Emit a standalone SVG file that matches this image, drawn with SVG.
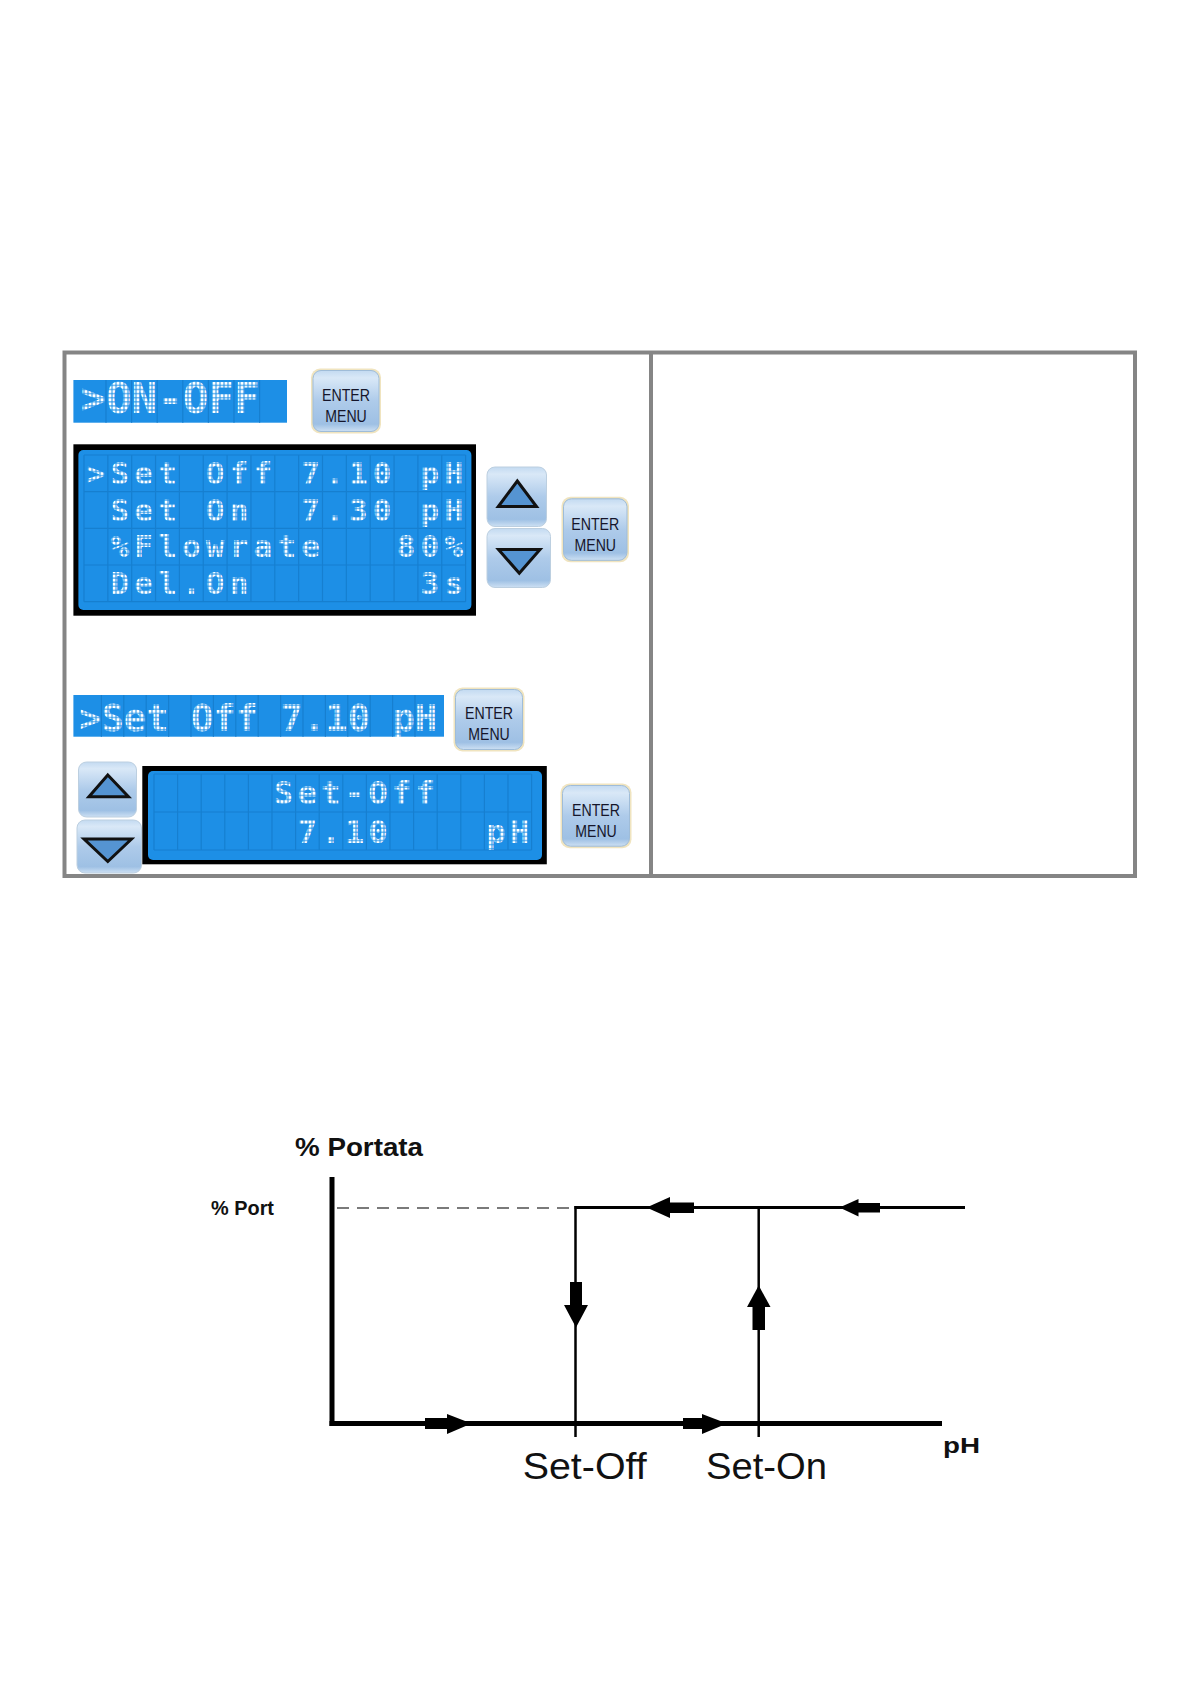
<svg xmlns="http://www.w3.org/2000/svg" width="1191" height="1684" viewBox="0 0 1191 1684">
<style>
.frame{fill:none;stroke:#858585;stroke-width:4}
.lcdbg{fill:#1d8fe6}
.lcdframe{fill:#000}
.grid{fill:none;stroke:#167fd0;stroke-width:1.2}
.dm{font-family:"DejaVu Sans Mono","Liberation Mono",monospace;font-weight:bold;fill:url(#dots)}
.glow{fill:#f0e4bf}
.btn{fill:url(#btnGrad);stroke:#9fbcd8;stroke-width:1}
.btn2{fill:url(#btnGrad);stroke:#bccfe0;stroke-width:1}
.btxt{font-family:"Liberation Sans",Arial,sans-serif;font-size:16.5px;fill:#15152a;text-anchor:middle}
.tri{fill:#5594d2;stroke:#111;stroke-width:3;stroke-linejoin:miter}
.ax{stroke:#000;stroke-width:5;fill:none}
.ln{stroke:#000;stroke-width:3;fill:none}
.lnt{stroke:#000;stroke-width:2.5;fill:none}
.dash{stroke:#7a7a7a;stroke-width:2;stroke-dasharray:12 8;fill:none}
.ah{fill:#000}
.lbl{font-family:"Liberation Sans",Arial,sans-serif;fill:#111}
</style>
<defs>
<pattern id="dots" patternUnits="userSpaceOnUse" width="4" height="4.1">
<rect x="0.5" y="0.5" width="3" height="3.1" fill="#ffffff"/>
</pattern>
<linearGradient id="btnGrad" x1="0" y1="0" x2="0" y2="1">
<stop offset="0" stop-color="#c3daf1"/>
<stop offset="0.12" stop-color="#d9e8f7"/>
<stop offset="0.5" stop-color="#aecbea"/>
<stop offset="0.88" stop-color="#9ec0e4"/>
<stop offset="1" stop-color="#cde0f3"/>
</linearGradient>
</defs>
<rect width="1191" height="1684" fill="#ffffff"/>

<g id="table">
<rect class="frame" x="64.5" y="352.5" width="1070.5" height="523.5"/>
<line class="frame" x1="651" y1="352.5" x2="651" y2="876"/>
</g>

<g id="lcd-onoff">
<rect class="lcdbg" x="73.4" y="380" width="213.6" height="42.7"/>
<path class="grid" d="M106 380V422.7M131.6 380V422.7M157.2 380V422.7M182.8 380V422.7M208.4 380V422.7M234 380V422.7M259.6 380V422.7"/>
<text class="dm" x="80.4" y="413" font-size="42.5" xml:space="preserve">&gt;ON-OFF</text>
</g>

<g id="btn-enter-1">
<rect class="glow" x="311" y="368.5" width="70" height="65" rx="9"/>
<rect class="btn" x="313" y="370.5" width="66" height="61" rx="8"/>
<text class="btxt" x="346" y="400.7" textLength="48" lengthAdjust="spacingAndGlyphs">ENTER</text>
<text class="btxt" x="346" y="421.7" textLength="41.5" lengthAdjust="spacingAndGlyphs">MENU</text>
</g>

<g id="lcd-menu">
<rect class="lcdframe" x="73.4" y="444.3" width="402.6" height="171.4"/>
<rect class="lcdbg" x="78.4" y="450" width="393" height="160" rx="5"/>
<path class="grid" d="M84 455H465.6M84 491.7H465.6M84 528.3H465.6M84 565H465.6M84 601.7H465.6M84 455V601.7M107.85 455V601.7M131.7 455V601.7M155.55 455V601.7M179.4 455V601.7M203.25 455V601.7M227.1 455V601.7M250.95 455V601.7M274.8 455V601.7M298.65 455V601.7M322.5 455V601.7M346.35 455V601.7M370.2 455V601.7M394.05 455V601.7M417.9 455V601.7M441.75 455V601.7M465.6 455V601.7"/>
<text class="dm" x="86.6" y="484" font-size="31" letter-spacing="5.19" xml:space="preserve">&gt;Set Off 7.10 pH</text>
<text class="dm" x="86.6" y="520.7" font-size="31" letter-spacing="5.19" xml:space="preserve"> Set On  7.30 pH</text>
<text class="dm" x="86.6" y="557.3" font-size="31" letter-spacing="5.19" xml:space="preserve"> %Flowrate   80%</text>
<text class="dm" x="86.6" y="594" font-size="31" letter-spacing="5.19" xml:space="preserve"> Del.On       3s</text>
</g>

<g id="btn-up-1">
<rect class="btn2" x="487" y="467" width="59.5" height="59.5" rx="8"/>
<polygon class="tri" points="517.3,481 536.5,506.5 498.3,506.5"/>
</g>
<g id="btn-down-1">
<rect class="btn2" x="487" y="528.5" width="63.5" height="59" rx="8"/>
<polygon class="tri" points="498.5,549.5 540,549.5 519.3,573.3"/>
</g>

<g id="btn-enter-2">
<rect class="glow" x="561.5" y="496.8" width="67.5" height="65.5" rx="9"/>
<rect class="btn" x="563.5" y="498.8" width="63.5" height="61.5" rx="8"/>
<text class="btxt" x="595.3" y="529.5" textLength="48" lengthAdjust="spacingAndGlyphs">ENTER</text>
<text class="btxt" x="595.3" y="550.5" textLength="41.5" lengthAdjust="spacingAndGlyphs">MENU</text>
</g>

<g id="lcd-setoff-bar">
<rect class="lcdbg" x="73.4" y="695" width="370.6" height="41.7"/>
<path class="grid" d="M101.4 695V736.7M123.8 695V736.7M146.2 695V736.7M168.6 695V736.7M191 695V736.7M213.4 695V736.7M235.8 695V736.7M258.2 695V736.7M280.6 695V736.7M303 695V736.7M325.4 695V736.7M347.8 695V736.7M370.2 695V736.7M392.6 695V736.7M415 695V736.7"/>
<text class="dm" x="79" y="730.5" font-size="37.2" xml:space="preserve">&gt;Set Off 7.10 pH</text>
</g>

<g id="btn-enter-3">
<rect class="glow" x="453.5" y="687.5" width="71" height="64" rx="9"/>
<rect class="btn" x="455.5" y="689.5" width="67" height="60" rx="8"/>
<text class="btxt" x="489" y="719.2" textLength="48" lengthAdjust="spacingAndGlyphs">ENTER</text>
<text class="btxt" x="489" y="740.2" textLength="41.5" lengthAdjust="spacingAndGlyphs">MENU</text>
</g>

<g id="btn-up-2">
<rect class="btn2" x="78.5" y="762" width="58" height="55" rx="8"/>
<polygon class="tri" points="107.8,775 128.5,796.7 88.9,796.7"/>
</g>
<g id="btn-down-2">
<rect class="btn2" x="77" y="820" width="64.5" height="53" rx="8"/>
<polygon class="tri" points="84,839 131.5,839 107.8,861.5"/>
</g>

<g id="lcd-setoff-edit">
<rect class="lcdframe" x="142.3" y="766" width="404.5" height="98.3"/>
<rect class="lcdbg" x="148" y="771" width="394" height="89" rx="5"/>
<path class="grid" d="M154 774H531.6M154 812H531.6M154 850H531.6M154 774V850M177.6 774V850M201.2 774V850M224.8 774V850M248.4 774V850M272 774V850M295.6 774V850M319.2 774V850M342.8 774V850M366.4 774V850M390 774V850M413.6 774V850M437.2 774V850M460.8 774V850M484.4 774V850M508 774V850M531.6 774V850"/>
<text class="dm" x="155.9" y="804" font-size="32.5" letter-spacing="4.03" xml:space="preserve">     Set-Off    </text>
<text class="dm" x="155.9" y="843" font-size="32.5" letter-spacing="4.03" xml:space="preserve">      7.10    pH</text>
</g>

<g id="btn-enter-4">
<rect class="glow" x="560.5" y="783.5" width="71" height="64.7" rx="9"/>
<rect class="btn" x="562.5" y="785.5" width="67" height="60.7" rx="8"/>
<text class="btxt" x="596" y="816" textLength="48" lengthAdjust="spacingAndGlyphs">ENTER</text>
<text class="btxt" x="596" y="837" textLength="41.5" lengthAdjust="spacingAndGlyphs">MENU</text>
</g>

<g id="chart-labels">
<text class="lbl" x="295" y="1156" font-size="25" font-weight="bold" textLength="128" lengthAdjust="spacingAndGlyphs">% Portata</text>
<text class="lbl" x="211" y="1215" font-size="20" font-weight="bold" textLength="63" lengthAdjust="spacingAndGlyphs">% Port</text>
<text class="lbl" x="943" y="1452.7" font-size="22" font-weight="bold" textLength="37" lengthAdjust="spacingAndGlyphs">pH</text>
<text class="lbl" x="522.7" y="1479" font-size="36" textLength="124" lengthAdjust="spacingAndGlyphs">Set-Off</text>
<text class="lbl" x="706" y="1479" font-size="36" textLength="121" lengthAdjust="spacingAndGlyphs">Set-On</text>
</g>

<g id="connectors">
<line class="ax" x1="332" y1="1177" x2="332" y2="1426"/>
<line class="ax" x1="329.5" y1="1423.5" x2="942" y2="1423.5"/>
<line class="dash" x1="337" y1="1208" x2="575" y2="1208"/>
<line class="ln" x1="574.5" y1="1207.5" x2="965" y2="1207.5"/>
<line class="lnt" x1="575.5" y1="1206" x2="575.5" y2="1437"/>
<line class="lnt" x1="758.7" y1="1207.5" x2="758.7" y2="1437"/>
<rect class="ah" x="570" y="1282" width="12" height="23.5"/>
<polygon class="ah" points="564,1305 588,1305 576,1327.5"/>
<polygon class="ah" points="747,1307 770.5,1307 758.7,1285.5"/>
<rect class="ah" x="752.5" y="1306.5" width="12.5" height="23.5"/>
<polygon class="ah" points="646.5,1207.5 670,1197 670,1218"/>
<rect class="ah" x="669.5" y="1202.5" width="24.5" height="10.5"/>
<polygon class="ah" points="839.5,1207.5 858.5,1199 858.5,1216.5"/>
<rect class="ah" x="858" y="1203" width="22" height="9.5"/>
<rect class="ah" x="425" y="1418" width="22.5" height="11"/>
<polygon class="ah" points="447,1414 447,1434 471.5,1423.5"/>
<rect class="ah" x="683" y="1418" width="19.5" height="11"/>
<polygon class="ah" points="702,1414 702,1434 727,1423.5"/>
</g>
</svg>
